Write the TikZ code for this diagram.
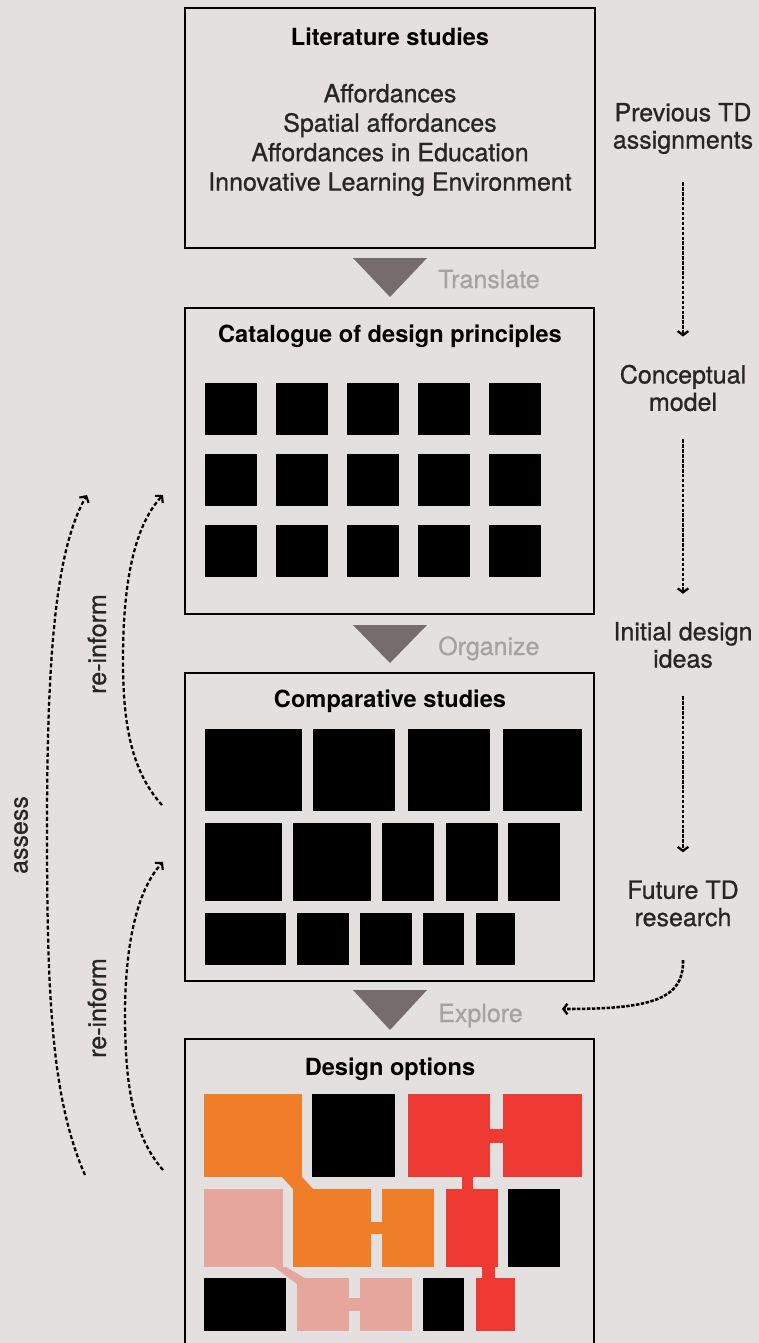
\documentclass[tikz,border=0pt]{standalone}
\usepackage{fontspec}
\setmainfont{TeX Gyre Heros}
\newfontfamily\regfont[FakeBold=0.8]{TeX Gyre Heros}
\usetikzlibrary{arrows.meta}
\definecolor{bg}{HTML}{E3E0DF}
\definecolor{tri}{HTML}{756C6B}
\definecolor{lbl}{HTML}{A5A2A1}
\definecolor{txt}{HTML}{262626}
\definecolor{dorange}{HTML}{F07D28}
\definecolor{dred}{HTML}{EE3A33}
\definecolor{dpink}{HTML}{E6A69E}
\tikzset{
  stage/.style={draw=black, line width=2pt, rectangle, inner sep=0pt},
  title/.style={font=\bfseries\fontsize{17.7pt}{21pt}\selectfont, text=black, inner sep=0pt, anchor=base},
  body/.style={font=\regfont\fontsize{18.75pt}{22.1pt}\selectfont, text=txt, align=center, inner sep=0pt},
  sidetext/.style={font=\regfont\fontsize{18.75pt}{20.5pt}\selectfont, text=txt, align=center, inner sep=0pt},
  verb/.style={font=\regfont\fontsize{18.75pt}{22pt}\selectfont, text=lbl, inner sep=0pt, anchor=base west},
  looplabel/.style={font=\regfont\fontsize{18.75pt}{22pt}\selectfont, text=txt, inner sep=0pt, rotate=90},
  flow/.style={line width=1.9pt, dash pattern=on 2.6pt off 1.1pt, shorten <=21pt, shorten >=21pt,
    -{Straight Barb[length=3pt,width=8pt,line width=1.7pt]}},
  feed/.style={line width=1.9pt, dash pattern=on 2.6pt off 1.1pt,
    -{Straight Barb[length=3pt,width=8pt,line width=1.7pt]}},
  loopline/.style={line width=1.7pt, dash pattern=on 3pt off 1.8pt,
    -{Straight Barb[length=3.5pt,width=8pt,line width=1.6pt]}},
  tristyle/.style={fill=tri},
  blk/.style={fill=black},
}
\begin{document}
\begin{tikzpicture}[x=0.75pt, y=-0.75pt]
\fill[bg] (0,0) rectangle (759,1343);
\useasboundingbox (0,0) rectangle (759,1343);
\clip (0,0) rectangle (759,1343);

% stage boxes
\node[stage, minimum width={410*0.75pt}, minimum height={240*0.75pt}] (lit) at (390,128) {};
\node[stage, minimum width={409*0.75pt}, minimum height={306*0.75pt}] (cat) at (389.5,461) {};
\node[stage, minimum width={409*0.75pt}, minimum height={308*0.75pt}] (comp) at (389.5,827) {};
\node[stage, minimum width={409*0.75pt}, minimum height={340*0.75pt}] (des) at (389.5,1209) {};

% titles
\node[title] (litT) at (390,45) {Literature studies};
\node[body] (litB) at (390,140) {Affordances\\Spatial affordances\\Affordances in Education\\Innovative Learning Environment};
\node[title] (catT) at (390,342) {Catalogue of design principles};
\node[title] (compT) at (390,707) {Comparative studies};
\node[title] (desT) at (390,1075) {Design options};

% transition triangles and verbs
\fill[tristyle] (353,258) -- (427,258) -- (390,297) -- cycle;
\fill[tristyle] (353,625) -- (427,625) -- (390,663) -- cycle;
\fill[tristyle] (353,990) -- (427,990) -- (390,1030) -- cycle;
\node[verb] (tr) at (438,288) {Translate};
\node[verb] (org) at (438,655) {Organize};
\node[verb] (exp) at (438,1022) {Explore};

% catalogue grid
\foreach \i in {0,...,4}{
  \foreach \j in {0,1,2}{
    \fill[blk] ({205+71*\i},{383+71*\j}) rectangle ({257+71*\i},{435+71*\j});
  }
}

% comparative studies
\fill[blk] (205,729) rectangle (302,811);
\fill[blk] (313,729) rectangle (395,811);
\fill[blk] (408,729) rectangle (490,811);
\fill[blk] (503,729) rectangle (582,811);
\fill[blk] (205,823) rectangle (282,901);
\fill[blk] (293,823) rectangle (371,901);
\fill[blk] (382,823) rectangle (434,901);
\fill[blk] (446,823) rectangle (498,901);
\fill[blk] (508,823) rectangle (560,901);
\fill[blk] (205,913) rectangle (286,965);
\fill[blk] (297,913) rectangle (349,965);
\fill[blk] (360,913) rectangle (412,965);
\fill[blk] (423,913) rectangle (464,965);
\fill[blk] (476,913) rectangle (515,965);

% design options
\fill[dorange] (204,1094) rectangle (302,1177);
\fill[dorange] (282,1177) -- (302,1177) -- (313,1189) -- (293,1189) -- cycle;
\fill[dorange] (293,1189) rectangle (371,1267);
\fill[dorange] (382,1189) rectangle (434,1267);
\fill[dorange] (370,1222) rectangle (383,1234);
\fill[blk] (312,1094) rectangle (395,1177);
\fill[dred] (408,1094) rectangle (490,1177);
\fill[dred] (503,1094) rectangle (582,1177);
\fill[dred] (489,1129) rectangle (504,1143);
\fill[dred] (462,1176) rectangle (473,1190);
\fill[dred] (446,1189) rectangle (498,1267);
\fill[dred] (482,1266) rectangle (495,1279);
\fill[dred] (476,1278) rectangle (515,1331);
\fill[blk] (508,1189) rectangle (560,1267);
\fill[dpink] (204,1189) rectangle (283,1267);
\fill[dpink] (274,1267) -- (286,1267) -- (305,1278) -- (297,1284) -- cycle;
\fill[dpink] (297,1278) rectangle (349,1331);
\fill[dpink] (360,1278) rectangle (412,1331);
\fill[dpink] (348,1298) rectangle (361,1311);
\fill[blk] (204,1278) rectangle (286,1331);
\fill[blk] (423,1278) rectangle (464,1331);

% right column
\node[sidetext] (prev) at (683,128.5) {Previous TD\\assignments};
\node[sidetext] (conc) at (683,388) {Conceptual\\model};
\node[sidetext] (init) at (683,645) {Initial design\\ideas};
\node[sidetext] (fut) at (683,903.5) {Future TD\\research};
\draw[flow] (prev) -- (conc);
\draw[flow] (conc) -- (init);
\draw[flow] (init) -- (fut);
\coordinate (fb) at (562,1009);
\draw[feed] ([yshift=-25pt]fut.south) .. controls (684,1000) and (650,1009) .. (fb);

% left loops
\coordinate (a0) at (85,1175);
\coordinate (a1) at (87,495);
\coordinate (r0) at (162,805);
\coordinate (r1) at (163,495);
\coordinate (s0) at (163,1170);
\coordinate (s1) at (163,862);
\draw[loopline] (a0) .. controls (52,1100) and (47,1000) .. (47,830) .. controls (47,660) and (55,550) .. (a1);
\draw[loopline] (r0) .. controls (130,770) and (123,720) .. (123,660) .. controls (123,580) and (135,525) .. (r1);
\draw[loopline] (s0) .. controls (132,1135) and (125,1080) .. (125,1015) .. controls (125,945) and (137,890) .. (s1);
\node[looplabel] (ri1) at (97,644) {re-inform};
\node[looplabel] (ri2) at (97,1008) {re-inform};
\node[looplabel] (as) at (21,835) {assess};
\end{tikzpicture}
\end{document}
